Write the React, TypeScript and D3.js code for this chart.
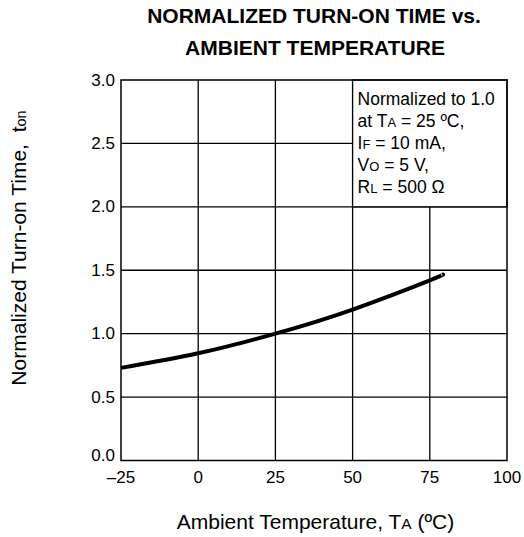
import React from 'react';
import * as d3 from 'd3';

// curve
const temps = [-25, 0, 25, 50, 75, 79];
const tonValues = [0.73, 0.845, 1.0, 1.19, 1.42, 1.465];

const xTicks = [-25, 0, 25, 50, 75, 100];
const xTickLabels = ['\u201325', '0', '25', '50', '75', '100'];
const yTicks = [0, 0.5, 1.0, 1.5, 2.0, 2.5, 3.0];

const W = 524;
const H = 537;
const FONT = '"Liberation Sans", Arial, Helvetica, sans-serif';

const App: React.FC = () => {
  const x = d3.scaleLinear().domain([-25, 100]).range([121, 507]);
  const y = d3.scaleLinear().domain([0, 3]).range([460.5, 80]);

  const data = temps.map((t, i) => ({ t, v: tonValues[i] }));
  const line = d3.line<{ t: number; v: number }>()
    .x(d => x(d.t))
    .y(d => y(d.v))
    .curve(d3.curveNatural);

  // note box sits in the top-right cell block
  const boxX0 = x(50);
  const boxX1 = x(100);
  const boxY0 = y(3);
  const boxY1 = y(2);
  const noteX = boxX0 + 5;
  const noteY = [105, 127, 149, 171, 192.5];
  const sub = { fontSize: 13 };

  return (
    <svg width={W} height={H} style={{ display: 'block', position: 'absolute', left: 0, top: 0 }}
      fontFamily={FONT}>
      <rect width={W} height={H} fill="#fff" />

      {/* title */}
      <text x={314} y={22.5} textAnchor="middle" fontWeight="bold" fontSize={21}>
        NORMALIZED TURN-ON TIME vs.
      </text>
      <text x={315} y={55} textAnchor="middle" fontWeight="bold" fontSize={21}>
        AMBIENT TEMPERATURE
      </text>

      {/* grid */}
      <g stroke="#000" strokeWidth={1.3}>
        {xTicks.slice(1, -1).map(t => (
          <line key={'gx' + t} x1={x(t)} x2={x(t)} y1={y(0)} y2={y(3)} />
        ))}
        {yTicks.slice(1, -1).map(v => (
          <line key={'gy' + v} x1={x(-25)} x2={x(100)} y1={y(v)} y2={y(v)} />
        ))}
      </g>

      {/* curve */}
      <path d={line(data) || ''} fill="none" stroke="#000" strokeWidth={4} />

      {/* note box */}
      <rect x={boxX0} y={boxY0} width={boxX1 - boxX0} height={boxY1 - boxY0}
        fill="#fff" stroke="#000" strokeWidth={1.3} />
      <g fontSize={17.5} fill="#000">
        <text x={noteX} y={noteY[0]}>Normalized to 1.0</text>
        <text x={noteX} y={noteY[1]}>at T<tspan style={sub}>A</tspan> = 25 ºC,</text>
        <text x={noteX} y={noteY[2]}>I<tspan style={sub}>F</tspan> = 10 mA,</text>
        <text x={noteX} y={noteY[3]}>V<tspan style={sub}>O</tspan> = 5 V,</text>
        <text x={noteX} y={noteY[4]}>R<tspan style={sub}>L</tspan> = 500 Ω</text>
      </g>

      {/* frame */}
      <rect x={x(-25)} y={y(3)} width={x(100) - x(-25)} height={y(0) - y(3)}
        fill="none" stroke="#000" strokeWidth={1.5} />

      {/* tick labels */}
      <g fontSize={17} fill="#000">
        {xTicks.map((t, i) => (
          <text key={'xt' + t} x={x(t)} y={y(0) + 22} textAnchor="middle">{xTickLabels[i]}</text>
        ))}
        {yTicks.map(v => (
          <text key={'yt' + v} x={115} y={y(v) + (v === 0 ? 0.5 : 5.5)} textAnchor="end">
            {d3.format('.1f')(v)}
          </text>
        ))}
      </g>

      {/* axis titles */}
      <text x={315.5} y={528.5} textAnchor="middle" fontSize={21}>
        Ambient Temperature, T<tspan fontSize={15.5}>A</tspan> (ºC)
      </text>
      <text transform="translate(26,248) rotate(-90)" textAnchor="middle" fontSize={21}>
        Normalized Turn-on Time,{'\u00a0\u00a0'}t<tspan fontSize={14.5}>on</tspan>
      </text>
    </svg>
  );
};

export default App;
